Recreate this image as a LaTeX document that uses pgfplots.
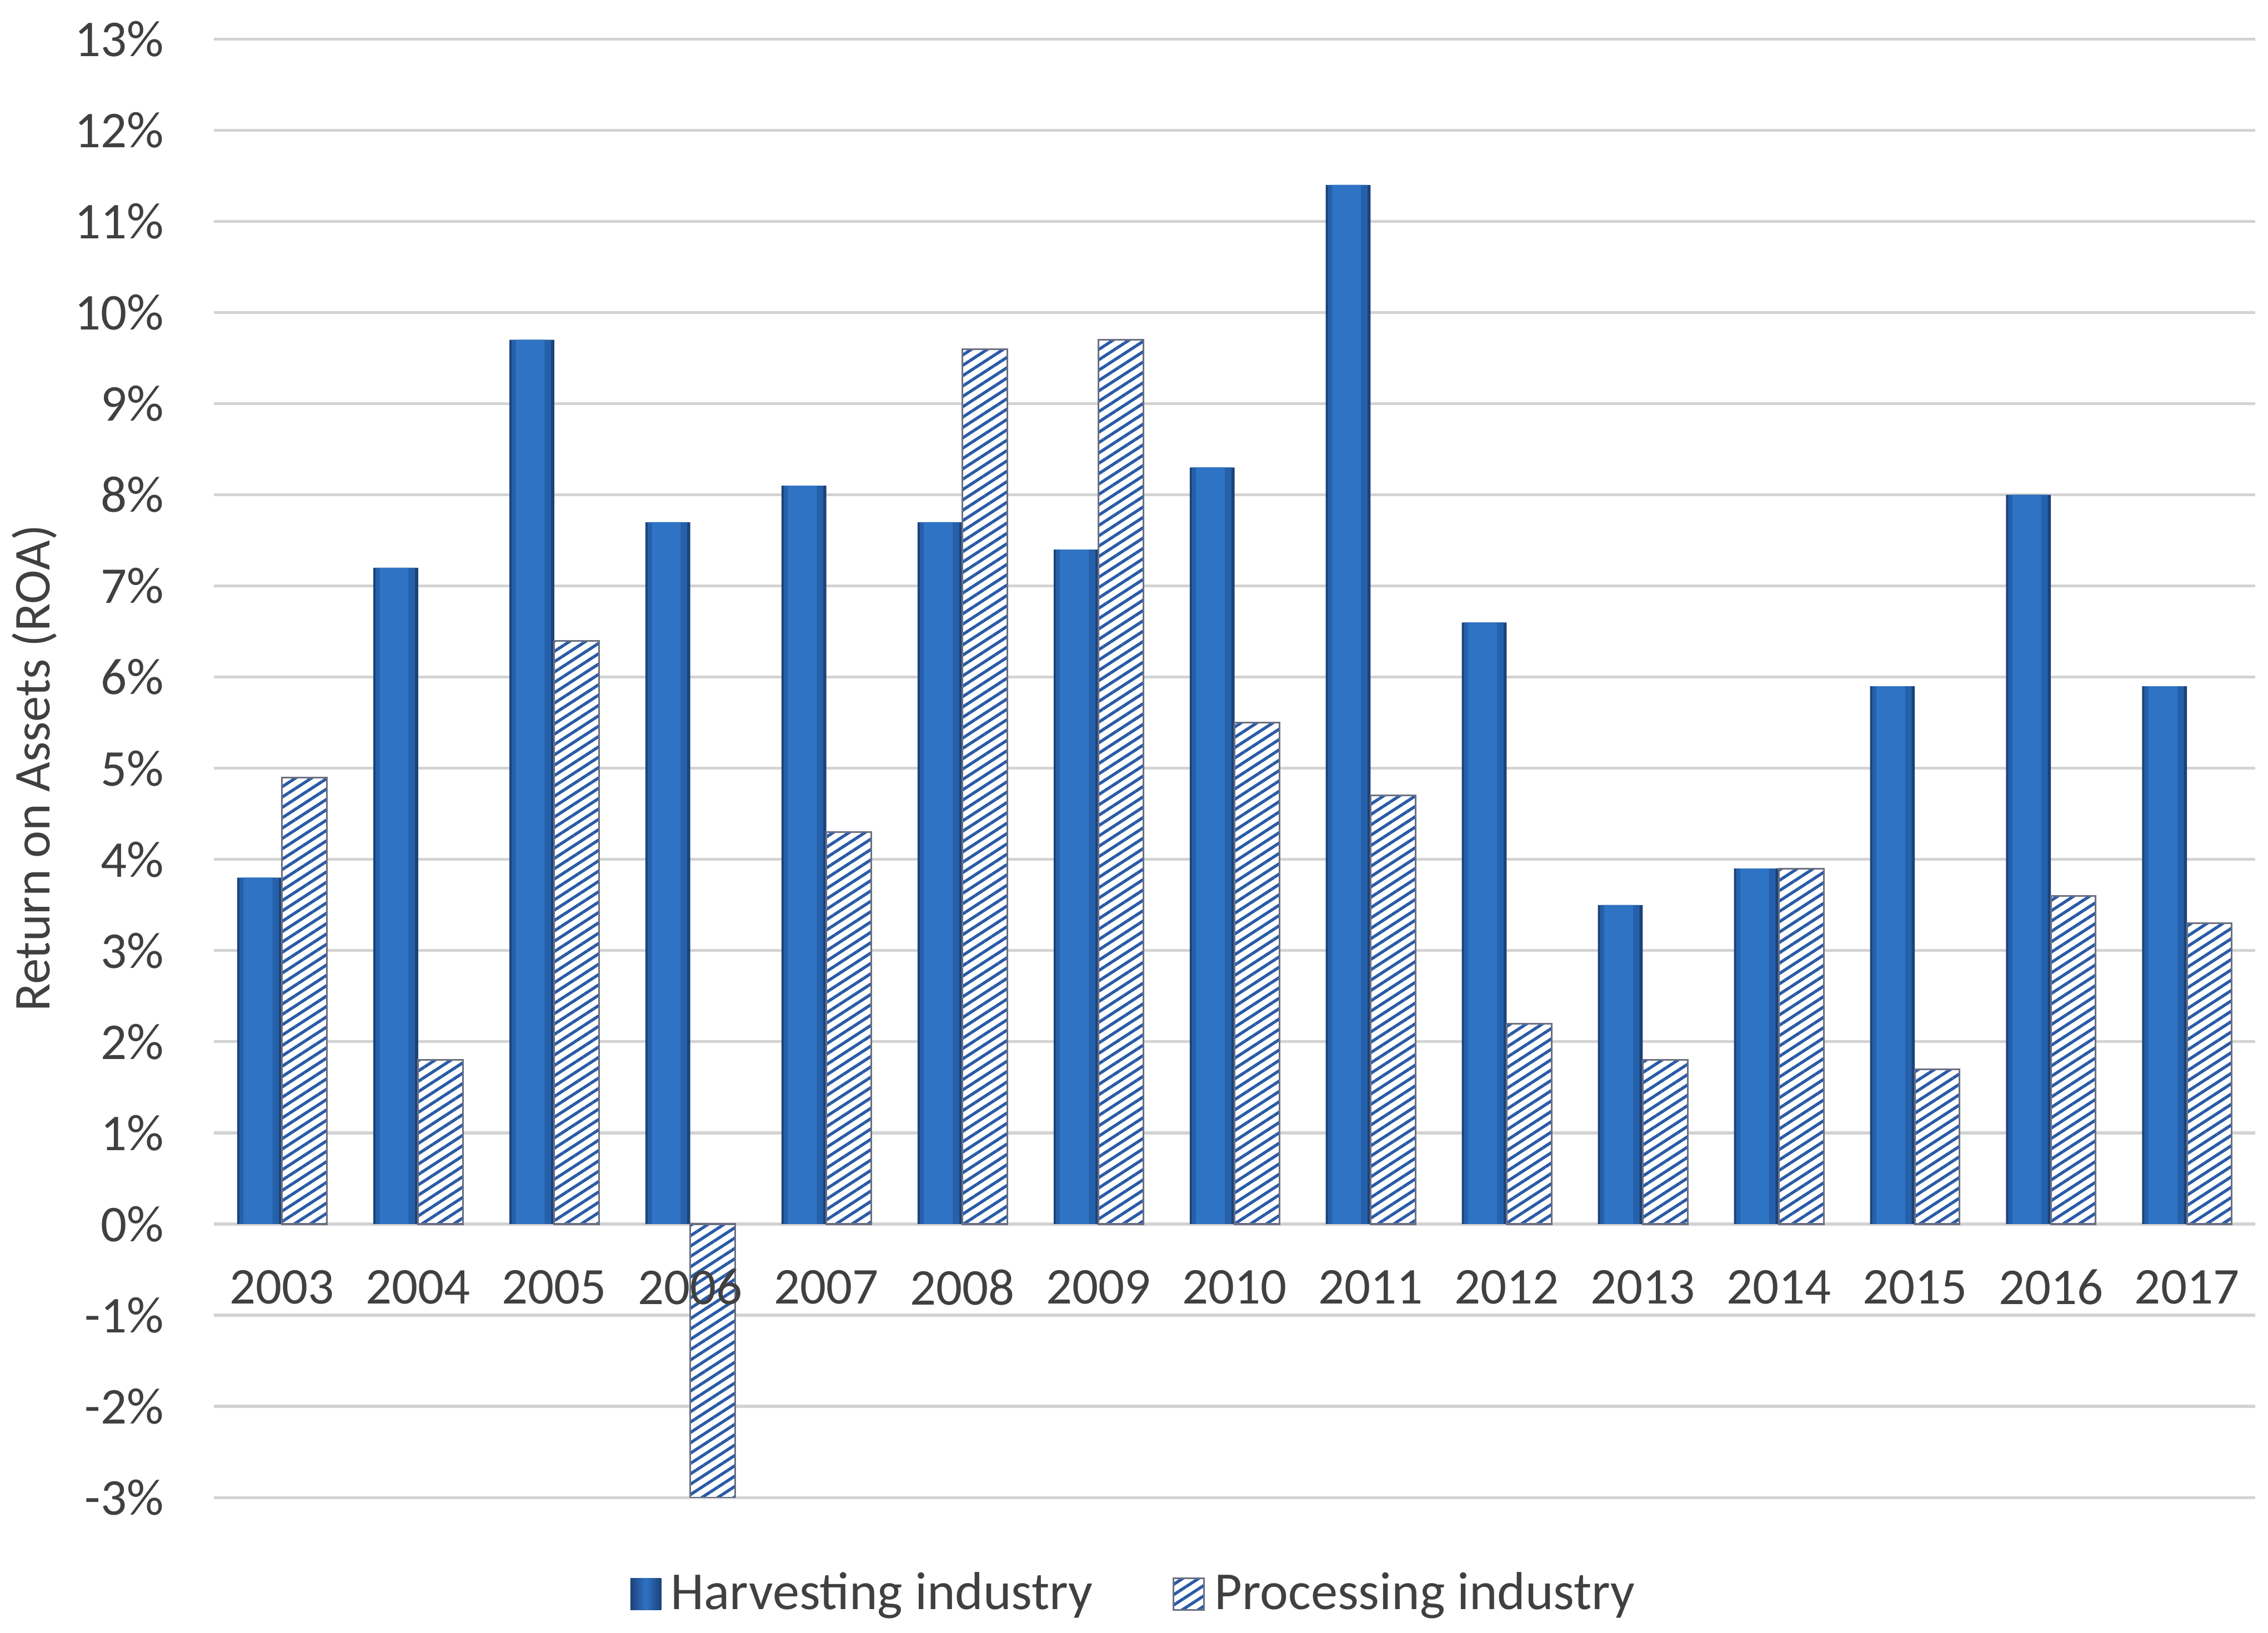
\documentclass[border=0pt]{standalone}
\usepackage{fontspec}
\setmainfont{Carlito}
\usepackage{pgfplots}
\usepackage{pgfplotstable}
\pgfplotsset{compat=1.18}
\usetikzlibrary{patterns.meta}
\definecolor{txt}{HTML}{404040}
\definecolor{gridc}{HTML}{D3D3D3}
\definecolor{hedge}{HTML}{1C4279}
\definecolor{hdark}{HTML}{2560AA}
\definecolor{hmid}{HTML}{2F73C5}
\definecolor{stripe}{HTML}{2A5AA8}
\definecolor{pedge}{HTML}{6A7080}
\pgfplotsset{
  layers/labelstop/.define layer set={axis background,axis grid,axis ticks,axis lines,pre main,main,axis tick labels,axis descriptions,axis foreground}{
    grid style={/pgfplots/on layer=axis grid},
    tick style={/pgfplots/on layer=axis ticks},
    axis line style={/pgfplots/on layer=axis lines},
    label style={/pgfplots/on layer=axis descriptions},
    legend style={/pgfplots/on layer=axis descriptions},
    title style={/pgfplots/on layer=axis descriptions},
    tick label style={/pgfplots/on layer=axis tick labels},
  },
}
\pgfplotstableread{
x H P
0 3.8 4.9
1 7.2 1.8
2 9.7 6.4
3 7.7 -3.0
4 8.1 4.3
5 7.7 9.6
6 7.4 9.7
7 8.3 5.5
8 11.4 4.7
9 6.6 2.2
10 3.5 1.8
11 3.9 3.9
12 5.9 1.7
13 8.0 3.6
14 5.9 3.3
}\roa
\begin{document}
\begin{tikzpicture}
\begin{axis}[
  set layers=labelstop,
  width=423.3pt, height=302.4pt, scale only axis,
  xmin=-0.5, xmax=14.5, ymin=-3, ymax=13,
  xtick={0,...,14},
  xticklabels={2003,2004,2005,2006,2007,2008,2009,2010,2011,2012,2013,2014,2015,2016,2017},
  ytick={-3,...,13},
  yticklabels={-3\%,-2\%,-1\%,0\%,1\%,2\%,3\%,4\%,5\%,6\%,7\%,8\%,9\%,10\%,11\%,12\%,13\%},
  ymajorgrids, grid style={gridc, line width=0.6pt},
  axis line style={draw=none}, major tick length=0pt,
  tick label style={font=\fontsize{10.7}{12}\selectfont, text=txt},
  xticklabel style={anchor=center, yshift=43.6pt},
  yticklabel style={xshift=-6.9pt},
  ylabel={Return on Assets (ROA)},
  ylabel style={at={(axis description cs:-0.0879,0.5)}, anchor=center, font=\fontsize{10.7}{12}\selectfont, text=txt},
  legend style={at={(axis description cs:0.4525,-0.0665)}, anchor=center, draw=none, fill=none,
    legend columns=2, font=\fontsize{11.1}{13}\selectfont, text=txt,
    /tikz/every even column/.append style={column sep=14.5pt}},
  legend image code/.code={\path[#1] (0pt,-3.2pt) rectangle (6.4pt,3.4pt);},
]
\addplot[ybar, bar width=9.3pt, bar shift=-4.65pt, draw=none, fill=hedge,
  legend image code/.code={\path[left color=hedge,right color=hedge,middle color=hmid] (0pt,-3.2pt) rectangle (6.4pt,3.4pt);}]
  table[x=x,y=H]{\roa};
\addlegendentry{Harvesting industry}
\addplot[ybar, bar width=8.2pt, bar shift=-4.75pt, draw=none, fill=hdark, forget plot] table[x=x,y=H]{\roa};
\addplot[ybar, bar width=6.0pt, bar shift=-5.0pt, draw=none, fill=hmid, forget plot] table[x=x,y=H]{\roa};
\addplot[ybar, bar width=9.3pt, bar shift=4.65pt, draw=pedge, line width=0.35pt, fill=white,
  postaction={pattern={Lines[angle=33,distance=1.8pt,line width=0.62pt]}, pattern color=stripe}] table[x=x,y=P]{\roa};
\addlegendentry{Processing industry}
\end{axis}
\pgfresetboundingbox
\useasboundingbox (-44.4pt,-28pt) rectangle (426pt,310.5pt);
\end{tikzpicture}
\end{document}
